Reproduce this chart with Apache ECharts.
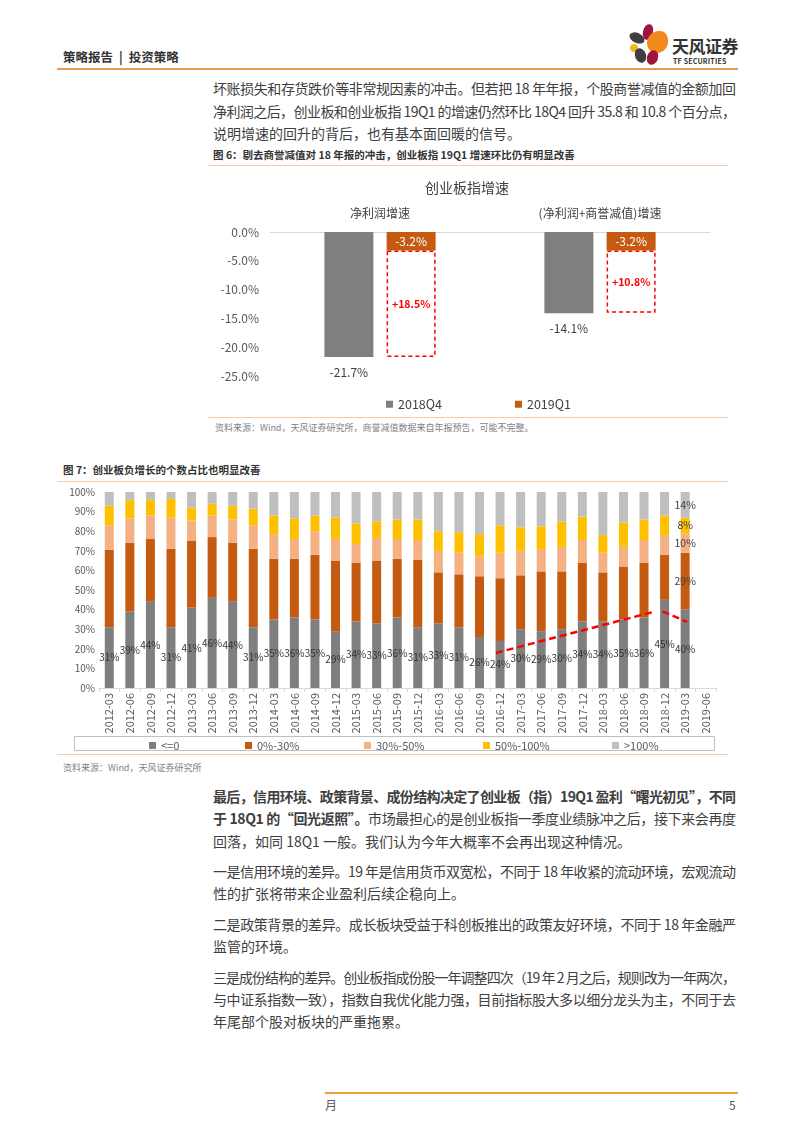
<!DOCTYPE html>
<html><head><meta charset="utf-8">
<script src="https://cdn.jsdelivr.net/npm/echarts@6/dist/echarts.min.js"></script>
<style>
body{margin:0;width:802px;height:1133px;position:relative;background:#fff;font-family:"Noto Sans CJK SC","Noto Sans",sans-serif;color:#404040;overflow:hidden}
.a{position:absolute}
.ln{position:absolute;left:213px;width:523px;font-size:14px;line-height:22px;white-space:nowrap;text-align:left}
.hr{position:absolute;height:0}
.figt{position:absolute;font-size:10.5px;font-weight:bold;color:#333;line-height:14px;white-space:nowrap}
.src{position:absolute;font-size:9px;color:#7f7f7f;line-height:12px;white-space:nowrap}
.pet{position:absolute;border-radius:50%}
</style></head>
<body>
<!-- header -->
<div class="a" style="left:63px;top:49px;font-size:12.5px;font-weight:bold;color:#333;line-height:16px;white-space:pre">策略报告<span style="margin:0 6px">|</span>投资策略</div>
<div class="pet" style="left:643px;top:24px;width:10px;height:16px;background:#a0153e;transform:rotate(15deg)"></div>
<div class="pet" style="left:629px;top:33px;width:16px;height:10px;background:#3f3f3f;transform:rotate(25deg)"></div>
<div class="pet" style="left:647px;top:31px;width:21px;height:22px;background:#f08a1c;border-radius:60% 40% 55% 45%"></div>
<div class="pet" style="left:630px;top:44px;width:8px;height:8px;background:#f5b81c"></div>
<div class="pet" style="left:635px;top:48px;width:11px;height:15px;background:#3f3f3f;transform:rotate(-20deg)"></div>
<div class="pet" style="left:647px;top:50px;width:11px;height:15px;background:#a0153e;transform:rotate(20deg)"></div>
<div class="a" style="left:672px;top:36px;font-size:17px;font-weight:bold;color:#333;line-height:20px;letter-spacing:-0.5px">天风证券</div>
<div class="a" style="left:673px;top:57px;font-size:7px;font-weight:bold;color:#333;line-height:9px;letter-spacing:0.2px">TF SECURITIES</div>
<div class="hr" style="left:57px;top:68px;width:681px;border-top:2px solid #e59d4b"></div>

<div class="ln fit" style="top:77px">坏账损失和存货跌价等非常规因素的冲击。但若把 18 年年报，个股商誉减值的金额加回</div>
<div class="ln fit" style="top:100px">净利润之后，创业板和创业板指 19Q1 的增速仍然环比 18Q4 回升 35.8 和 10.8 个百分点，</div>
<div class="ln" style="top:122px">说明增速的回升的背后，也有基本面回暖的信号。</div>

<div class="figt" style="left:213px;top:148px">图 6：剔去商誉减值对 18 年报的冲击，创业板指 19Q1 增速环比仍有明显改善</div>
<div class="hr" style="left:208px;top:165px;width:520px;border-top:1.5px solid #f8cbad"></div>
<div id="c1" class="a" style="left:216px;top:170px;width:502px;height:245px"></div>
<div class="hr" style="left:208px;top:417px;width:520px;border-top:1.5px solid #f8cbad"></div>
<div class="src" style="left:215px;top:422px">资料来源：Wind，天风证券研究所，商誉减值数据来自年报预告，可能不完整。</div>

<div class="figt" style="left:63px;top:463px">图 7：创业板负增长的个数占比也明显改善</div>
<div class="hr" style="left:57px;top:481px;width:671px;border-top:1.5px solid #f8cbad"></div>
<div id="c2" class="a" style="left:57px;top:485px;width:671px;height:275px"></div>
<div class="hr" style="left:57px;top:754px;width:671px;border-top:1.5px solid #f8cbad"></div>
<div class="src" style="left:63px;top:762px">资料来源：Wind，天风证券研究所</div>

<div class="ln fit" style="top:785px"><b>最后，信用环境、政策背景、成份结构决定了创业板（指）19Q1 盈利“曙光初见”，不同</b></div>
<div class="ln fit" style="top:807px"><b>于 18Q1 的“回光返照”。</b>市场最担心的是创业板指一季度业绩脉冲之后，接下来会再度</div>
<div class="ln" style="top:830px">回落，如同 18Q1 一般。我们认为今年大概率不会再出现这种情况。</div>
<div class="ln fit" style="top:860px">一是信用环境的差异。19 年是信用货币双宽松，不同于 18 年收紧的流动环境，宏观流动</div>
<div class="ln" style="top:882px">性的扩张将带来企业盈利后续企稳向上。</div>
<div class="ln fit" style="top:913px">二是政策背景的差异。成长板块受益于科创板推出的政策友好环境，不同于 18 年金融严</div>
<div class="ln" style="top:935px">监管的环境。</div>
<div class="ln fit" style="top:966px">三是成份结构的差异。创业板指成份股一年调整四次（19 年 2 月之后，规则改为一年两次，</div>
<div class="ln fit" style="top:988px">与中证系指数一致），指数自我优化能力强，目前指标股大多以细分龙头为主，不同于去</div>
<div class="ln" style="top:1010px">年尾部个股对板块的严重拖累。</div>

<div class="hr" style="left:325px;top:1092px;width:413px;border-top:2px solid #e8a33c"></div>
<div class="a" style="left:325px;top:1098px;font-size:12px;color:#595959;line-height:14px">月</div>
<div class="a" style="left:729px;top:1098px;font-size:12px;color:#595959;line-height:14px">5</div>

<script>
// justify full text lines to the column width
document.querySelectorAll('.fit').forEach(el=>{
  const r = document.createRange(); r.selectNodeContents(el);
  const w = r.getBoundingClientRect().width;
  const n = el.textContent.length;
  const ls = (523 - w) / (n - 1);
  el.style.letterSpacing = ls.toFixed(3) + 'px';
});

// ---------- Figure 6 data ----------
const cat1 = ['净利润增速', '(净利润+商誉减值)增速'];
const q4_2018 = [-21.7, -14.1];
const q1_2019 = [-3.2, -3.2];
const improve = [18.5, 10.8];

// ---------- Figure 7 data ----------
const quarters = ['2012-03','2012-06','2012-09','2012-12','2013-03','2013-06','2013-09','2013-12',
  '2014-03','2014-06','2014-09','2014-12','2015-03','2015-06','2015-09','2015-12',
  '2016-03','2016-06','2016-09','2016-12','2017-03','2017-06','2017-09','2017-12',
  '2018-03','2018-06','2018-09','2018-12','2019-03','2019-06'];
const neg   = [31,39,44,31,41,46,44,31,35,36,35,29,34,33,36,31,33,31,26,24,30,29,30,34,34,35,36,45,40];
const g0_30 = [39.5,35,32,40,34,31,30,40,31,30,33,36,30,32,30,34.5,26,27,31,32,27.5,30.5,29.5,30,25,27,28,23,29];
const g30_50= [12.5,12.5,12,16,10.5,11,12,12,12.5,10,12,11,9.5,11.5,10,10,11,11,10,13,12.5,11,12.5,11.5,10,10,11.5,10,10];
const g50_100=[10,9.5,8,9.5,6.5,6,7,8.5,9.5,10.5,8,11,10.5,8.5,10,10.5,10,10.5,11.5,14,12,12,13,12,9,12.5,10.5,10,8];
const g100  = [7,4,4,3.5,8,6,7,8.5,12,13.5,12,13,16,15,14,14,20,20.5,21.5,17,18,17.5,15,12.5,22,15.5,14,12,14];
const seriesNames = ['<=0','0%-30%','30%-50%','50%-100%','>100%'];
// red dashed trend arrows: [categoryPosition, percent] pairs
const arrowPts = [[[18.8,17.9],[26.45,38.8]], [[26.9,39.1],[28.1,33.7]]];

const FONT = '"Noto Sans CJK SC","Noto Sans",sans-serif';

// ---------- Chart 1 ----------
const c1 = echarts.init(document.getElementById('c1'));
c1.setOption({
  animation:false,
  textStyle:{fontFamily:FONT},
  title:{text:'创业板指增速', left:'center', top:6, textStyle:{fontSize:14, fontWeight:'normal', color:'#404040', fontFamily:FONT}},
  legend:{data:['2018Q4','2019Q1'], left:165, top:223, itemWidth:7, itemHeight:7, itemGap:73, icon:'rect',
    textStyle:{fontSize:12.5, color:'#404040', fontFamily:FONT}},
  grid:{left:54, right:8, top:62, bottom:39},
  xAxis:{type:'category', position:'top', data:cat1,
    axisLine:{lineStyle:{color:'#d9d9d9'}}, axisTick:{show:false},
    axisLabel:{fontSize:12, color:'#404040', margin:13, fontFamily:FONT}},
  yAxis:{type:'value', min:-25, max:0, interval:5,
    axisLine:{show:false}, axisTick:{show:false}, splitLine:{show:false},
    axisLabel:{fontSize:12, color:'#595959', margin:11, formatter:v=>v.toFixed(1)+'%', fontFamily:FONT}},
  series:[
    {name:'2018Q4', type:'bar', data:q4_2018, barWidth:49, barGap:'27%',
     itemStyle:{color:'#7f7f7f'},
     label:{show:true, position:'bottom', distance:9, fontSize:12, color:'#404040', formatter:p=>p.value+'%'}},
    {name:'2019Q1', type:'bar', stack:'q1', data:q1_2019, barWidth:49,
     itemStyle:{color:'#c55a11'},
     label:{show:true, position:'inside', fontSize:12, color:'#fff', formatter:p=>p.value+'%'}},
    {name:'improve', type:'bar', stack:'q1', data:improve.map(v=>-v), barWidth:49,
     itemStyle:{color:'rgba(255,255,255,0)', borderColor:'#ff0000', borderWidth:1.5, borderType:[4,3]},
     label:{show:true, position:'inside', fontSize:10.5, fontWeight:'bold', color:'#ff0000',
       formatter:p=>'+'+improve[p.dataIndex]+'%'}}
  ]
});

// ---------- Chart 2 ----------
const c2 = echarts.init(document.getElementById('c2'));
const colors = ['#7f7f7f','#c55a11','#f4b183','#ffc000','#bfbfbf'];
const vals = [neg, g0_30, g30_50, g50_100, g100];
const legendLefts = [87, 183, 302, 421, 550];
const lastLabel = {show:true, position:'inside', fontSize:10.5, color:'#404040', formatter:p=>p.value+'%'};
const barSeries = vals.map((arr,k)=>({
  name:seriesNames[k], type:'bar', stack:'total', barWidth:9,
  itemStyle:{color:colors[k]},
  data: k===0 ? arr : arr.map((v,i)=> i===arr.length-1 ? {value:v, label:lastLabel} : v),
  label: k===0 ? {show:true, position:'inside', fontSize:10, color:'#333', formatter:p=>p.value+'%'} : {show:false}
}));
barSeries.push({
  name:'trend', type:'line', xAxisIndex:1, yAxisIndex:0, data:[], silent:true,
  markLine:{silent:true, symbol:['none','arrow'], symbolSize:[0,9], label:{show:false},
    lineStyle:{color:'#ff0000', type:[7,4], width:2.5},
    data: arrowPts.map(seg=>[{coord:seg[0]},{coord:seg[1]}])}
});
c2.setOption({
  animation:false,
  textStyle:{fontFamily:FONT},
  legend: seriesNames.map((n,k)=>({data:[n], left:legendLefts[k], top:250, itemWidth:7, itemHeight:7, icon:'rect',
    textStyle:{fontSize:11, color:'#595959', fontFamily:FONT}})),
  graphic:[{type:'rect', left:15, top:249, shape:{width:640, height:14}, style:{fill:'none', stroke:'#bfbfbf', lineWidth:1}}],
  grid:{left:42, right:12, top:7, bottom:72},
  xAxis:[
    {type:'category', data:quarters,
     axisLine:{lineStyle:{color:'#d9d9d9'}}, axisTick:{show:true, length:4, lineStyle:{color:'#d9d9d9'}},
     axisLabel:{rotate:90, interval:0, fontSize:11, color:'#595959', margin:5, fontFamily:FONT}},
    {type:'value', min:-0.5, max:29.5, show:false}
  ],
  yAxis:{type:'value', min:0, max:100, interval:10,
    axisLine:{show:false}, axisTick:{show:false}, splitLine:{show:false},
    axisLabel:{fontSize:10, color:'#595959', margin:4, formatter:'{value}%', fontFamily:FONT}},
  series: barSeries
});
</script>
</body></html>
